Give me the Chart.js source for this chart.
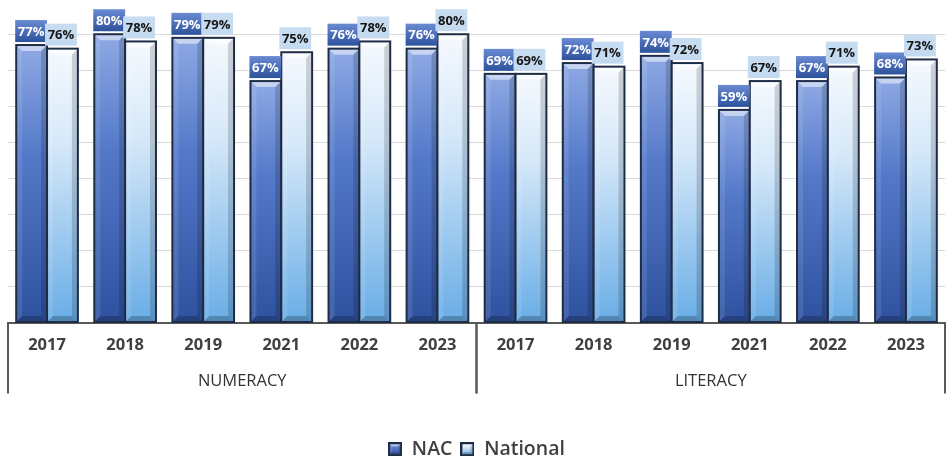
<!DOCTYPE html>
<html>
<head>
<meta charset="utf-8">
<script src="https://cdn.jsdelivr.net/npm/chart.js@4.4.1/dist/chart.umd.min.js"></script>
<style>
  html, body { margin: 0; padding: 0; background: #ffffff; }
  #wrap { width: 946px; height: 461px; }
</style>
</head>
<body>
<div id="wrap"><canvas id="scoreChart" width="946" height="461"></canvas></div>
<script>
// Results by year, grouped by subject
const years = ['2017', '2018', '2019', '2021', '2022', '2023'];
const subjects = ['NUMERACY', 'LITERACY'];
const categories = subjects.flatMap(() => years);
const nacScores = [77, 80, 79, 67, 76, 76, 69, 72, 74, 59, 67, 68];
const nationalScores = [76, 78, 79, 75, 78, 80, 69, 71, 72, 67, 71, 73];

const FONT = '"Open Sans", "DejaVu Sans", sans-serif';

// bevelled bar look: face gradient, lighter top edge, darker sides/bottom
const STYLES = {
    nac: {
        stops: [[0, '#8ea9e4'], [0.4, '#5479c9'], [1, '#2f529f']],
        labelStops: [[0, '#6a8bd2'], [1, '#2d529d']],
        labelText: '#ffffff'
    },
    national: {
        stops: [[0, '#f5f9fe'], [0.35, '#d5e8f9'], [1, '#69ade6']],
        labelStops: [[0, '#c8ddf1'], [1, '#c2d9ef']],
        labelText: '#151515'
    }
};

function paintBevel(ctx, L, T, R, B, style) {
    const w = R - L, h = B - T;
    const b = Math.min(6, w / 4, h / 3);
    const g = ctx.createLinearGradient(0, T, 0, B);
    style.stops.forEach(s => g.addColorStop(s[0], s[1]));
    ctx.fillStyle = g;
    ctx.fillRect(L, T, w, h);
    const poly = (pts, color) => {
        ctx.beginPath();
        ctx.moveTo(pts[0][0], pts[0][1]);
        pts.slice(1).forEach(p => ctx.lineTo(p[0], p[1]));
        ctx.closePath();
        ctx.fillStyle = color;
        ctx.fill();
    };
    poly([[L, T], [R, T], [R - b, T + b], [L + b, T + b]], 'rgba(255,255,255,0.5)');
    poly([[L, T], [L + b, T + b], [L + b, B - b], [L, B]], 'rgba(255,255,255,0.10)');
    poly([[R, T], [R - b, T + b], [R - b, B - b], [R, B]], 'rgba(0,0,0,0.16)');
    poly([[L, B], [L + b, B - b], [R - b, B - b], [R, B]], 'rgba(0,0,0,0.22)');
    ctx.lineWidth = 2;
    ctx.strokeStyle = '#1f2c46';
    ctx.strokeRect(L, T, w, h);
}

function legendIcon(style) {
    const c = document.createElement('canvas');
    c.width = 14; c.height = 14;
    paintBevel(c.getContext('2d'), 1, 1, 13, 13, style);
    return c;
}

const barBevel = {
    id: 'barBevel',
    afterDatasetsDraw(chart) {
        const ctx = chart.ctx;
        ctx.save();
        chart.data.datasets.forEach((ds, i) => {
            const style = STYLES[ds.styleKey];
            chart.getDatasetMeta(i).data.forEach(el => {
                const p = el.getProps(['x', 'y', 'base', 'width'], true);
                paintBevel(ctx, p.x - p.width / 2, p.y, p.x + p.width / 2, p.base, style);
            });
        });
        ctx.restore();
    }
};

// value boxes sitting just above each bar
const valueBoxes = {
    id: 'valueBoxes',
    afterDatasetsDraw(chart) {
        const ctx = chart.ctx;
        ctx.save();
        chart.data.datasets.forEach((ds, i) => {
            const style = STYLES[ds.styleKey];
            chart.getDatasetMeta(i).data.forEach((el, j) => {
                const p = el.getProps(['x', 'y', 'width'], true);
                const bw = p.width + 1, bh = 22;
                const left = p.x - p.width / 2 - (i === 0 ? 1 : 2);
                const bottom = p.y - 3;
                const g = ctx.createLinearGradient(0, bottom - bh, 0, bottom);
                style.labelStops.forEach(s => g.addColorStop(s[0], s[1]));
                ctx.fillStyle = g;
                ctx.fillRect(left, bottom - bh, bw, bh);
                ctx.fillStyle = style.labelText;
                ctx.font = 'bold 13px ' + FONT;
                ctx.textAlign = 'center';
                ctx.textBaseline = 'middle';
                ctx.fillText(ds.data[j] + '%', left + bw / 2, bottom - bh / 2 + 1);
            });
        });
        ctx.restore();
    }
};

// subject labels and separators under the year axis
const subjectAxis = {
    id: 'subjectAxis',
    afterDraw(chart) {
        const ctx = chart.ctx;
        const xs = chart.scales.x;
        const area = chart.chartArea;
        const step = xs.getPixelForValue(1) - xs.getPixelForValue(0);
        const top = area.bottom, depth = 71;
        ctx.save();
        ctx.strokeStyle = '#595959';
        ctx.lineWidth = 2;
        ctx.fillStyle = '#333333';
        ctx.font = '16.5px ' + FONT;
        ctx.textAlign = 'center';
        ctx.textBaseline = 'middle';
        subjects.forEach((name, k) => {
            const first = k * years.length, last = first + years.length - 1;
            const x0 = xs.getPixelForValue(first) - step / 2;
            const x1 = xs.getPixelForValue(last) + step / 2;
            [x0, x1].forEach(xv => {
                const xx = Math.min(Math.max(xv, 1), chart.width - 1);
                ctx.beginPath();
                ctx.moveTo(xx, top);
                ctx.lineTo(xx, top + depth);
                ctx.stroke();
            });
            ctx.fillText(name, (x0 + x1) / 2, top + 59);
        });
        ctx.restore();
    }
};

new Chart(document.getElementById('scoreChart'), {
    type: 'bar',
    data: {
        labels: categories,
        datasets: [
            { label: 'NAC', data: nacScores, styleKey: 'nac', backgroundColor: '#4f74c6' },
            { label: 'National', data: nationalScores, styleKey: 'national', backgroundColor: '#a9d0f2' }
        ]
    },
    options: {
        responsive: false,
        animation: false,
        categoryPercentage: 0.79,
        barPercentage: 1,
        layout: { padding: { left: 8, right: 1, top: 0, bottom: -8 } },
        plugins: {
            tooltip: { enabled: false },
            legend: {
                position: 'bottom',
                labels: {
                    usePointStyle: true,
                    boxHeight: 14,
                    pointStyleWidth: 14,
                    padding: 8,
                    color: '#404040',
                    font: { family: FONT, size: 19.5, weight: '600' },
                    generateLabels(chart) {
                        return chart.data.datasets.map((ds, i) => ({
                            text: ds.label,
                            pointStyle: legendIcon(STYLES[ds.styleKey]),
                            fontColor: '#404040',
                            datasetIndex: i,
                            hidden: false,
                            lineWidth: 0
                        }));
                    }
                }
            }
        },
        scales: {
            x: {
                offset: true,
                grid: { display: false, drawTicks: false },
                border: { display: true, color: '#595959', width: 2 },
                ticks: {
                    color: '#404040',
                    padding: 13,
                    font: { family: FONT, size: 16.5, weight: 'bold' }
                },
                afterFit(scale) { scale.height = 109; }
            },
            y: {
                min: 0,
                max: 89.5,
                ticks: { display: false, stepSize: 10 },
                border: { display: false },
                grid: { color: '#d9d9d9', drawTicks: false },
                afterBuildTicks(scale) {
                    scale.ticks = scale.ticks.filter(t => t.value % 10 === 0);
                },
                afterFit(scale) { scale.width = 0; }
            }
        }
    },
    plugins: [barBevel, valueBoxes, subjectAxis]
});
</script>
</body>
</html>
